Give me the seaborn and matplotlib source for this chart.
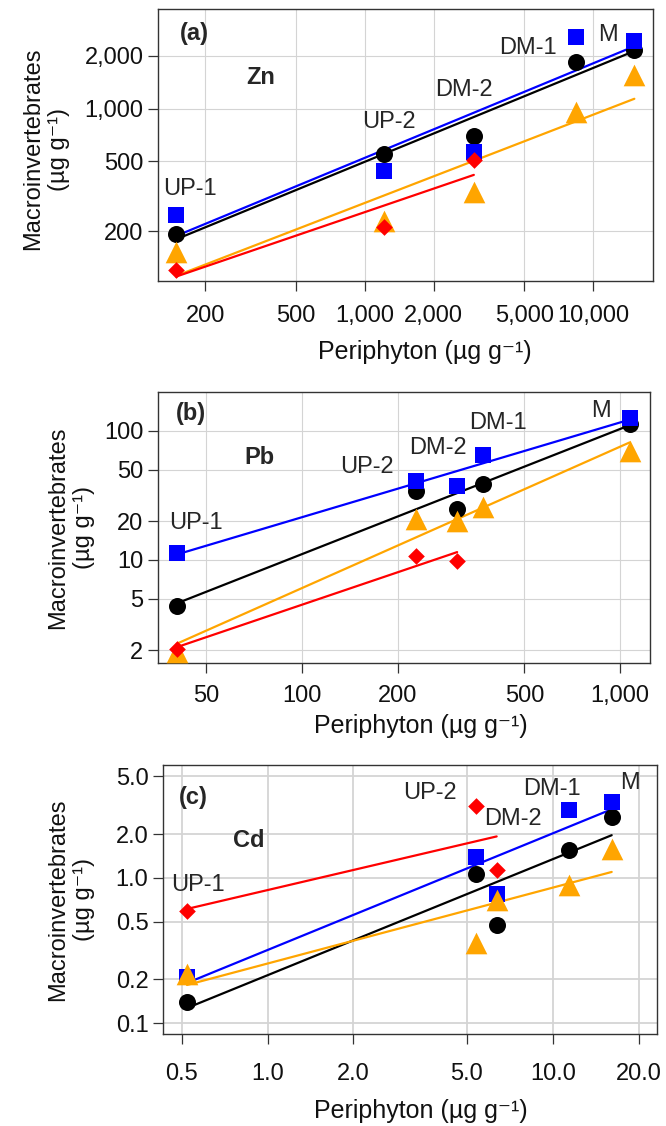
import numpy as np
import matplotlib
matplotlib.use("Agg")
import matplotlib.pyplot as plt
import seaborn as sns
from matplotlib.ticker import FixedLocator, FixedFormatter, NullLocator

# ---------------- data ----------------
sites = ["UP-1", "UP-2", "DM-2", "DM-1", "M"]

# Zn (periphyton x, macroinvertebrate y for four series); red series only UP-1, UP-2, DM-2
zn_x = [149, 1218, 3003, 8414, 15170]
zn_blue = [248, 441, 566, 2575, 2443]
zn_black = [193, 549, 698, 1849, 2163]
zn_orange = [152, 230, 333, 955, 1560]
zn_red = [120, 212, 510]

# Pb
pb_x = [40.3, 228, 307, 369, 1072]
pb_blue = [11.3, 41.1, 37.6, 65.5, 126]
pb_black = [4.42, 34.0, 24.8, 39.0, 112]
pb_orange = [1.94, 20.7, 19.9, 25.7, 69.5]
pb_red = [2.05, 10.8, 9.8]

# Cd
cd_x = [0.522, 5.40, 6.36, 11.42, 16.1]
cd_blue = [0.208, 1.39, 0.776, 2.96, 3.32]
cd_black = [0.140, 1.07, 0.472, 1.55, 2.63]
cd_orange = [0.216, 0.356, 0.709, 0.90, 1.58]
cd_red = [0.589, 3.15, 1.14]

zn_xticks = [200, 500, 1000, 2000, 5000, 10000]
zn_xticklabels = ["200", "500", "1,000", "2,000", "5,000", "10,000"]
zn_yticks = [200, 500, 1000, 2000]
zn_yticklabels = ["200", "500", "1,000", "2,000"]

pb_xticks = [50, 100, 200, 500, 1000]
pb_xticklabels = ["50", "100", "200", "500", "1,000"]
pb_yticks = [2, 5, 10, 20, 50, 100]
pb_yticklabels = ["2", "5", "10", "20", "50", "100"]

cd_xticks = [0.5, 1.0, 2.0, 5.0, 10.0, 20.0]
cd_xticklabels = ["0.5", "1.0", "2.0", "5.0", "10.0", "20.0"]
cd_yticks = [0.1, 0.2, 0.5, 1.0, 2.0, 5.0]
cd_yticklabels = ["0.1", "0.2", "0.5", "1.0", "2.0", "5.0"]

panel_letters = ["(a)", "(b)", "(c)"]
metals = ["Zn", "Pb", "Cd"]
xlabel = "Periphyton (µg g⁻¹)"
ylabel = "Macroinvertebrates\n(µg g⁻¹)"

# ---------------- styling / layout ----------------
sns.set_theme(style="white")
plt.rcParams["font.family"] = ["Liberation Sans", "DejaVu Sans"]
plt.rcParams["font.size"] = 17
plt.rcParams["axes.unicode_minus"] = False

COL = {"black": "#000000", "blue": "#0000FF", "orange": "#FFA500", "red": "#FF0000"}
MARK = {"black": ("o", 150), "blue": ("s", 132), "orange": ("^", 243), "red": ("D", 72)}
ORDER = ["black", "blue", "orange", "red"]

fig = plt.figure(figsize=(6.66, 11.26), dpi=100)

panels = [
    dict(x=zn_x, ys={"black": zn_black, "blue": zn_blue, "orange": zn_orange, "red": zn_red},
         xt=zn_xticks, xtl=zn_xticklabels, yt=zn_yticks, ytl=zn_yticklabels,
         rect=[0.2372, 0.7504, 0.7432, 0.2416], xlim=(124, 18300), ylim=(104, 3700),
         labels=[(171, 348), (1277, 837), (2710, 1271), (5200, 2208), (11670, 2630)],
         letter=(0.073, 0.91), metal=(0.208, 0.75), ylc=(-0.178, 0.485), xlc=(0.539, -0.215),
         xpad=10, gridlw=0.8),
    dict(x=pb_x, ys={"black": pb_black, "blue": pb_blue, "orange": pb_orange, "red": pb_red},
         xt=pb_xticks, xtl=pb_xticklabels, yt=pb_yticks, ytl=pb_yticklabels,
         rect=[0.2372, 0.4112, 0.7387, 0.2407], xlim=(35.2, 1240), ylim=(1.59, 200),
         labels=[(46.4, 19.3), (160, 52.5), (267, 73.8), (413, 115), (871, 142)],
         letter=(0.067, 0.92), metal=(0.207, 0.76), ylc=(-0.128, 0.5), xlc=(0.535, -0.19),
         xpad=8.5, gridlw=0.8),
    dict(x=cd_x, ys={"black": cd_black, "blue": cd_blue, "orange": cd_orange, "red": cd_red},
         xt=cd_xticks, xtl=cd_xticklabels, yt=cd_yticks, ytl=cd_yticklabels,
         rect=[0.2447, 0.0817, 0.7417, 0.2389], xlim=(0.43, 23.2), ylim=(0.084, 6.0),
         labels=[(0.572, 0.90), (3.72, 3.82), (7.23, 2.53), (9.9, 4.07), (18.7, 4.52)],
         letter=(0.061, 0.88), metal=(0.174, 0.72), ylc=(-0.138, 0.5), xlc=(0.522, -0.24),
         xpad=14, gridlw=1.3),
]

for i, p in enumerate(panels):
    ax = fig.add_axes(p["rect"])
    ax.set_xscale("log")
    ax.set_yscale("log")
    ax.set_xlim(*p["xlim"])
    ax.set_ylim(*p["ylim"])

    # regression lines (log-log OLS) under the markers
    for key in ORDER:
        yv = np.asarray(p["ys"][key], dtype=float)
        xv = np.asarray(p["x"][: len(yv)], dtype=float)
        b, a = np.polyfit(np.log10(xv), np.log10(yv), 1)
        xs = np.array([xv.min(), xv.max()])
        sns.lineplot(x=xs, y=10 ** (a + b * np.log10(xs)), ax=ax, color=COL[key],
                     linewidth=1.6, zorder=3, legend=False)
    for key in ORDER:
        yv = np.asarray(p["ys"][key], dtype=float)
        xv = np.asarray(p["x"][: len(yv)], dtype=float)
        m, s = MARK[key]
        sns.scatterplot(x=xv, y=yv, ax=ax, marker=m, s=s, color=COL[key],
                        linewidth=0, zorder=4, legend=False)

    for name, (tx, ty) in zip(sites, p["labels"]):
        ax.text(tx, ty, name, ha="center", va="center", fontsize=17, zorder=6)
    ax.text(*p["letter"], panel_letters[i], transform=ax.transAxes, ha="center",
            va="center", fontsize=17, fontweight="bold")
    ax.text(*p["metal"], metals[i], transform=ax.transAxes, ha="center",
            va="center", fontsize=17, fontweight="bold")

    ax.xaxis.set_major_locator(FixedLocator(p["xt"]))
    ax.xaxis.set_major_formatter(FixedFormatter(p["xtl"]))
    ax.yaxis.set_major_locator(FixedLocator(p["yt"]))
    ax.yaxis.set_major_formatter(FixedFormatter(p["ytl"]))
    ax.xaxis.set_minor_locator(NullLocator())
    ax.yaxis.set_minor_locator(NullLocator())

    ax.grid(True, which="major", color="#d4d4d4", linewidth=p["gridlw"], zorder=0)
    ax.set_axisbelow(True)
    for sp in ax.spines.values():
        sp.set_color("#333333")
        sp.set_linewidth(1.0)
    ax.tick_params(axis="both", which="major", direction="out", length=7, width=0.9,
                   color="#333333", labelsize=17, labelcolor="#111111",
                   bottom=True, left=True)
    ax.tick_params(axis="x", pad=p["xpad"])
    ax.tick_params(axis="y", pad=3.5)

    ax.set_xlabel(xlabel, fontsize=18, color="#111111")
    ax.set_ylabel(ylabel, fontsize=17, color="#111111", linespacing=1.2)
    ax.xaxis.set_label_coords(*p["xlc"])
    ax.yaxis.set_label_coords(*p["ylc"])

fig.savefig("out.png", dpi=100)
